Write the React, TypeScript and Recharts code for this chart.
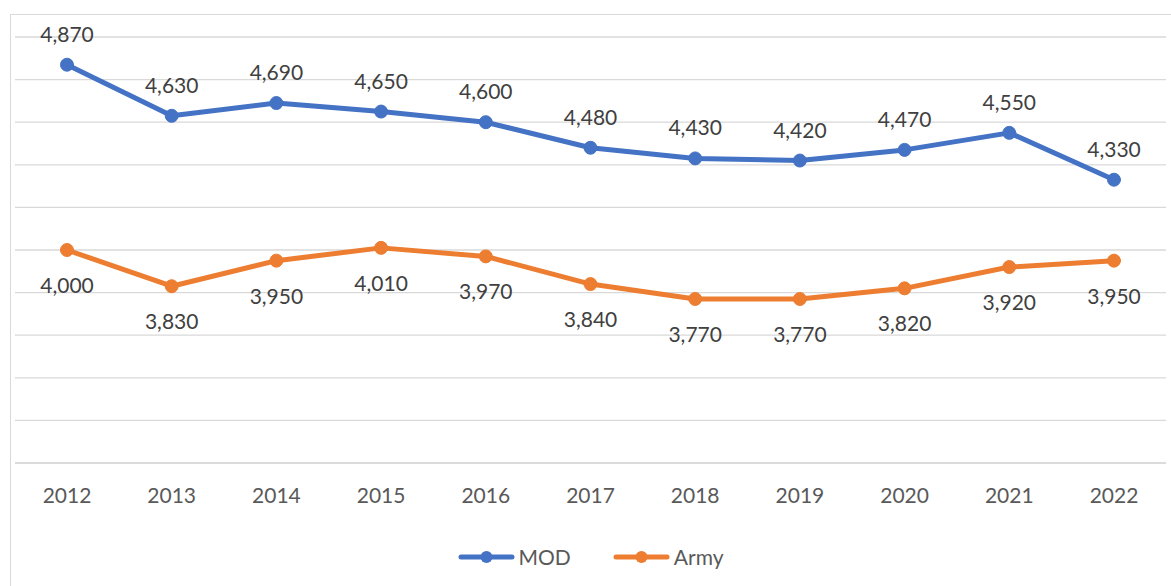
import React from "react";
import { LineChart, Line, XAxis, YAxis, CartesianGrid, Legend, LabelList } from "recharts";

const years = ["2012", "2013", "2014", "2015", "2016", "2017", "2018", "2019", "2020", "2021", "2022"];
const mod = [4870, 4630, 4690, 4650, 4600, 4480, 4430, 4420, 4470, 4550, 4330];
const army = [4000, 3830, 3950, 4010, 3970, 3840, 3770, 3770, 3820, 3920, 3950];
const yTicks = [3000, 3200, 3400, 3600, 3800, 4000, 4200, 4400, 4600, 4800, 5000];
const seriesOrder = ["MOD", "Army"];

const data = years.map((year, i) => ({ year, MOD: mod[i], Army: army[i] }));

const FONT = "Lato, 'Open Sans', sans-serif";
const BLUE = "#4472C4";
const ORANGE = "#ED7D31";

const fmt = (v: any) => Number(v).toLocaleString("en-US");

function LegendContent({ payload }: any) {
  const items = [...(payload || [])].sort(
    (a: any, b: any) => seriesOrder.indexOf(a.value) - seriesOrder.indexOf(b.value)
  );
  return (
    <div style={{ display: "flex", justifyContent: "center", gap: 42, fontFamily: FONT, fontSize: 21, color: "#595959" }}>
      {items.map((item: any) => (
        <div key={item.value} style={{ display: "flex", alignItems: "center", gap: 4 }}>
          <svg width={57} height={16}>
            <line x1={3} y1={8} x2={54} y2={8} stroke={item.color} strokeWidth={5} strokeLinecap="round" />
            <circle cx={28.5} cy={8} r={6} fill={item.color} />
          </svg>
          <span>{item.value}</span>
        </div>
      ))}
    </div>
  );
}

export default function App() {
  return (
    <div style={{ position: "absolute", left: 0, top: 0, width: 1171, height: 586, background: "#fff", overflow: "hidden" }}>
      <div style={{ position: "absolute", left: 10, top: 14, width: 1170, height: 600, borderLeft: "1px solid #d9d9d9", borderTop: "1px solid #d9d9d9" }} />
      <LineChart width={1171} height={586} data={data} margin={{ top: 37, right: 5, left: 15, bottom: 12 }}>
        <CartesianGrid vertical={false} stroke="#d9d9d9" strokeWidth={1.3} />
        <XAxis
          dataKey="year"
          padding={{ left: 52, right: 52 }}
          height={81}
          tickLine={false}
          tickSize={0}
          tickMargin={25}
          axisLine={{ stroke: "#d9d9d9", strokeWidth: 1.3 }}
          tick={{ fill: "#595959", fontSize: 21, fontFamily: FONT }}
        />
        <YAxis hide domain={[3000, 5000]} ticks={yTicks} />
        <Legend verticalAlign="bottom" height={30} content={<LegendContent />} />
        <Line
          dataKey="MOD"
          stroke={BLUE}
          strokeWidth={5}
          strokeLinecap="round"
          strokeLinejoin="round"
          dot={{ r: 6.5, fill: BLUE, stroke: BLUE, strokeWidth: 1 }}
          isAnimationActive={false}
        >
          <LabelList dataKey="MOD" position="top" offset={23} formatter={fmt} fill="#404040" fontSize={21} fontFamily={FONT} />
        </Line>
        <Line
          dataKey="Army"
          stroke={ORANGE}
          strokeWidth={5}
          strokeLinecap="round"
          strokeLinejoin="round"
          dot={{ r: 6.5, fill: ORANGE, stroke: ORANGE, strokeWidth: 1 }}
          isAnimationActive={false}
        >
          <LabelList dataKey="Army" position="bottom" offset={28} formatter={fmt} fill="#404040" fontSize={21} fontFamily={FONT} />
        </Line>
      </LineChart>
    </div>
  );
}
